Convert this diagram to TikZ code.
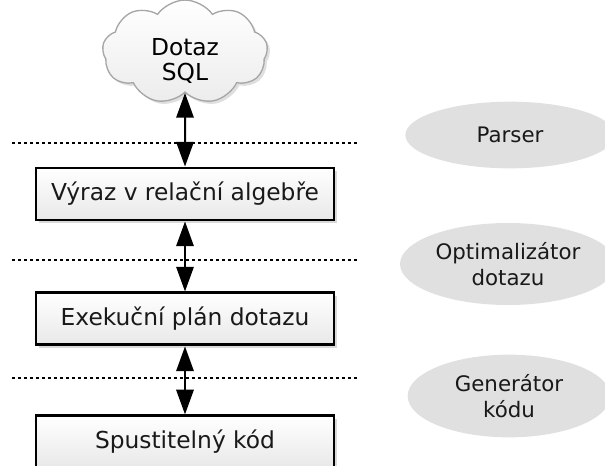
\documentclass[tikz,border=0pt]{standalone}
\usepackage{fontspec}
\setmainfont{DejaVu Sans}
\usepackage{xcolor}
\usepackage{tikz}
\usetikzlibrary{arrows.meta, positioning, shapes.geometric, shapes.symbols, shadows}

\begin{document}
\begin{tikzpicture}[
  x=0.75pt, y=-0.75pt,
  node distance=52.5pt,
  stage/.style={rectangle, draw, line width=2.2pt, top color=white, bottom color=gray!18, minimum width=223.5pt, minimum height=39pt, inner sep=3pt, font=\fontsize{17.5}{21}\selectfont, text=black!90, drop shadow={shadow xshift=2.5pt, shadow yshift=-2.5pt, opacity=0.3}},
  query/.style={cloud, cloud puffs=9, cloud puff arc=110, aspect=1.6, draw=gray!70, line width=1pt, top color=white, bottom color=gray!15, minimum width=124pt, minimum height=72pt, align=center, inner sep=1pt, text height=43pt, text depth=-10pt, font=\fontsize{17.5}{19}\selectfont, drop shadow={shadow xshift=2pt, shadow yshift=-2pt, opacity=0.25}},
  phase/.style={ellipse, fill=black!12, inner sep=0pt, align=center, font=\fontsize{16}{19}\selectfont, text=black!90},
  sep/.style={line width=2.2pt, dash pattern=on 2.2pt off 2.3pt},
  arr/.style={{Triangle[length=18.5pt, width=13pt]}-{Triangle[length=18.5pt, width=13pt]}, line width=1.5pt}
]
\useasboundingbox (0,0) rectangle (605,465);
% layer boundaries
\draw[sep] (12,143) -- (357,143);
\draw[sep] (12,260) -- (357,260);
\draw[sep] (12,378) -- (357,378);
% pipeline
\node[query] (sql) at (185,52) {Dotaz\\SQL};
\node[stage] (ra) at (185,194) {Výraz v relační algebře};
\node[stage, below=of ra] (plan) {Exekuční plán dotazu};
\node[stage, below=51pt of plan] (code) {Spustitelný kód};
% phases
\node[phase, minimum width=157pt, minimum height=50pt] (parser) at (510,135) {Parser};
\node[phase, minimum width=162pt, minimum height=61.5pt] (opt) at (508,264) {Optimalizátor\\dotazu};
\node[phase, minimum width=152pt, minimum height=62pt] (gen) at (509,396) {Generátor\\kódu};
\draw[arr] (sql.south) -- (ra);
\draw[arr] (ra) -- (plan);
\draw[arr] (plan) -- (code);
\end{tikzpicture}
\end{document}
